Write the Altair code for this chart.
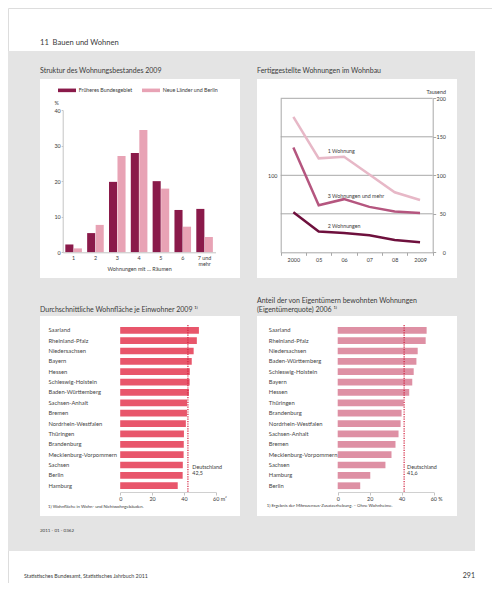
import altair as alt
import pandas as pd

FONT = "Lato"
TXT = "#3a3a3a"
GRAY_BG = "#e4e4e4"
AX = "#a8a8a8"
DARK = "#8a1a4a"
LIGHT = "#e8a3b5"
RED_BAR = "#e8566b"
PINK_BAR = "#de90a4"
LINE_COLORS = ["#e7b8c7", "#b5567f", "#6e103d"]
DE_RED = "#d21f3c"

# ---------------- data ----------------
rooms = ["1", "2", "3", "4", "5", "6", "7 und mehr"]
frueheres = [2.2, 5.4, 19.8, 27.9, 20.0, 11.9, 12.2]
neue = [1.1, 7.7, 27.1, 34.4, 17.9, 7.2, 4.3]
bar_series = ["Früheres Bundesgebiet", "Neue Länder und Berlin"]

years = ["2000", "05", "06", "07", "08", "2009"]
w_1 = [176, 122, 124, 101, 78, 68]
w_3plus = [136, 61, 69, 59, 53, 51]
w_2 = [52, 27, 25, 22, 16, 13]
line_series = ["1 Wohnung", "3 Wohnungen und mehr", "2 Wohnungen"]
line_label_y = [131, 73, 34.5]

states_area = ["Saarland", "Rheinland-Pfalz", "Niedersachsen", "Bayern", "Hessen",
               "Schleswig-Holstein", "Baden-Württemberg", "Sachsen-Anhalt", "Bremen",
               "Nordrhein-Westfalen", "Thüringen", "Brandenburg", "Mecklenburg-Vorpommern",
               "Sachsen", "Berlin", "Hamburg"]
area = [49.4, 48.1, 46.1, 44.9, 43.7, 43.6, 43.1, 42.0, 41.9, 41.2, 40.0, 39.9, 39.8, 39.3, 39.2, 36.1]
de_area = 42.5

states_own = ["Saarland", "Rheinland-Pfalz", "Niedersachsen", "Baden-Württemberg",
              "Schleswig-Holstein", "Bayern", "Hessen", "Thüringen", "Brandenburg",
              "Nordrhein-Westfalen", "Sachsen-Anhalt", "Bremen", "Mecklenburg-Vorpommern",
              "Sachsen", "Hamburg", "Berlin"]
own = [55.7, 55.1, 50.1, 49.3, 47.6, 46.7, 44.8, 41.3, 40.0, 39.4, 38.1, 36.2, 33.7, 29.9, 20.4, 14.1]
de_own = 41.6

# ---------------- layout ----------------
W, H = 484, 575
one = alt.Data(values=[{}])


def txt(s, x, y, size, align="left", color=TXT, baseline="middle"):
    return alt.Chart(one).mark_text(
        text=s, align=align, baseline=baseline, fontSize=size, font=FONT, color=color
    ).encode(x=alt.value(x), y=alt.value(y))


def box(x, y, x2, y2, color):
    return alt.Chart(one).mark_rect(color=color).encode(
        x=alt.value(x), x2=alt.value(x2), y=alt.value(y), y2=alt.value(y2)
    )


decor = [
    box(0, 43, 467, 543, GRAY_BG),
    box(32, 71, 232, 270, "white"),
    box(249, 71, 449, 270, "white"),
    box(32, 308, 232, 508, "white"),
    box(249, 308, 449, 508, "white"),
    txt("11\u2002Bauen und Wohnen", 32, 35, 7.6),
    txt("Struktur des Wohnungsbestandes 2009", 32, 63, 7.0),
    txt("Fertiggestellte Wohnungen im Wohnbau", 249, 63, 7.0),
    txt("Durchschnittliche Wohnfläche je Einwohner 2009 \u00b9\u207e", 32, 302, 7.0),
    txt("Anteil der von Eigentümern bewohnten Wohnungen", 249, 293, 7.0),
    txt("(Eigentümerquote) 2006 \u00b9\u207e", 249, 302, 7.0),
    txt("1) Wohnfläche in Wohn- und Nichtwohngebäuden.", 40, 498.7, 4.3),
    txt("1) Ergebnis der Mikrozensus-Zusatzerhebung. \u2013 Ohne Wohnheime.", 258.7, 498, 4.3),
    txt("2011 - 01 - 0362", 32, 523, 4.5),
    txt("Statistisches Bundesamt, Statistisches Jahrbuch 2011", 16, 568, 5.3),
    txt("291", 467, 568, 7.0, align="right"),
]

ax_common = dict(zindex=1, labelFont=FONT, labelColor=TXT, labelFontSize=5.4,
                 titleFont=FONT, titleColor=TXT, titleFontSize=5.4, titleFontWeight="normal",
                 labelFlush=False, labelOverlap=False)

# ---------------- top left: grouped bars ----------------
df_rooms = pd.DataFrame({
    "room": rooms * 2,
    "series": [bar_series[0]] * len(rooms) + [bar_series[1]] * len(rooms),
    "value": frueheres + neue,
})
tl = alt.Chart(df_rooms).mark_bar().encode(
    x=alt.X("room:N", sort=rooms,
            scale=alt.Scale(domain=rooms, range=[54.7, 207.5], paddingInner=0.24, paddingOuter=0.12),
            axis=alt.Axis(orient="bottom", offset=244.3 - H, title="Wohnungen mit \u2026 Räumen",
                          titleY=16, titleBaseline="middle", labelAngle=0, ticks=False, tickSize=0,
                          labelPadding=3, labelLineHeight=6.7, domainColor="#c4c4c4",
                          labelExpr="datum.value == '7 und mehr' ? ['7 und', 'mehr'] : datum.label",
                          **ax_common)),
    xOffset=alt.XOffset("series:N", scale=alt.Scale(domain=bar_series, paddingInner=0.05)),
    y=alt.Y("value:Q",
            scale=alt.Scale(domain=[0, 40], range=[244.3, 102], nice=False),
            axis=alt.Axis(orient="left", offset=-54.7, values=[0, 10, 20, 30, 40], grid=False,
                          tickSize=1.5, tickColor="#c4c4c4", domainColor="#c4c4c4", labelPadding=1,
                          title="%", titleAngle=0, titleAlign="left", titleX=-8.7, titleY=94.7,
                          titleBaseline="middle", **ax_common)),
    color=alt.Color("series:N", scale=alt.Scale(domain=bar_series, range=[DARK, LIGHT]),
                    legend=alt.Legend(orient="none", legendX=50, legendY=73, direction="horizontal",
                                      title=None, symbolType="M-1,-0.2L1,-0.2L1,0.2L-1,0.2Z",
                                      symbolSize=324, symbolStrokeWidth=0, symbolOpacity=1,
                                      labelFont=FONT, labelFontSize=5.3, labelColor=TXT,
                                      labelOffset=2.7, columnPadding=9, padding=0)),
)

# ---------------- top right: lines ----------------
df_lines = pd.DataFrame({
    "year": years * 3,
    "idx": list(range(len(years))) * 3,
    "series": sum([[s] * len(years) for s in line_series], []),
    "value": w_1 + w_3plus + w_2,
})
xs_tr = alt.Scale(type="band", domain=years, range=[272.7, 424.7], paddingInner=0, paddingOuter=0)
ys_tr = alt.Scale(domain=[0, 200], range=[244.3, 90.3], nice=False)

grid_tr = alt.Chart(pd.DataFrame({"g": [50, 100, 150, 200]})).mark_rule(color=AX, strokeWidth=1).encode(
    y=alt.Y("g:Q", scale=ys_tr,
            axis=alt.Axis(orient="left", offset=-272.7, values=[50, 100, 150, 200], grid=False,
                          ticks=False, tickSize=0, domainColor=AX, labelPadding=3.7, title=None,
                          labelExpr="datum.value == 100 ? '100' : ''", **ax_common)),
    x=alt.value(272.7), x2=alt.value(424.7),
)
lines = alt.Chart(df_lines).mark_line(strokeWidth=2.5).encode(
    x=alt.X("year:N", scale=xs_tr,
            axis=alt.Axis(orient="bottom", offset=244.3 - H, title=None, labelAngle=0,
                          tickBand="extent", tickSize=3, tickColor=AX, domainColor=AX,
                          labelPadding=2.5, **ax_common)),
    y=alt.Y("value:Q", scale=ys_tr,
            axis=alt.Axis(orient="right", offset=424.7 - W, values=[0, 50, 100, 150, 200],
                          grid=False, tickSize=3, tickColor=AX, domainColor=AX, labelAlign="right",
                          labelPadding=9.8, title="Tausend", titleAngle=0, titleAlign="right",
                          titleX=12.8, titleY=83, titleBaseline="middle", **ax_common)),
    color=alt.Color("series:N", scale=alt.Scale(domain=line_series, range=LINE_COLORS), legend=None),
    order=alt.Order("idx:Q"),
)
line_labels = [
    alt.Chart(one).mark_text(text=s, align="left", baseline="middle", dx=9, fontSize=5.3,
                             font=FONT, color=TXT).encode(
        x=alt.XDatum("05", axis=None), y=alt.YDatum(v, axis=None))
    for s, v in zip(line_series, line_label_y)
]
tr = alt.layer(grid_tr, lines, *line_labels).resolve_axis(x="independent", y="independent")


# ---------------- bottom: horizontal bars ----------------
def hbars(states, values, de_value, de_text, color, x_range, label_x, unit, text_dx):
    df = pd.DataFrame({"state": states, "value": values})
    ys = alt.Scale(domain=states, range=[317.1, 482.9], paddingInner=0.35, paddingOuter=0.175)
    xs = alt.Scale(domain=[0, 60], range=x_range, nice=False)
    bars = alt.Chart(df).mark_bar(color=color).encode(
        y=alt.Y("state:N", scale=ys, sort=states,
                axis=alt.Axis(orient="left", offset=-label_x, title=None, ticks=False, tickSize=0,
                              domain=False, labelAlign="left", labelPadding=0,
                              **{**ax_common, "labelFontSize": 5.8, "labelColor": "#454545"})),
        x=alt.X("value:Q", scale=xs,
                axis=alt.Axis(orient="bottom", offset=484 - H, values=[0, 20, 40, 60], grid=False,
                              tickSize=3, tickColor="#c4c4c4", domainColor="#d0d0d0", labelPadding=1,
                              title=None,
                              labelExpr=f"datum.value == 60 ? '60 {unit}' : datum.label",
                              labelAlign={"condition": {"test": "datum.value == 60", "value": "left"},
                                          "value": "center"},
                              labelOffset={"condition": {"test": "datum.value == 60", "value": -3.3},
                                           "value": 0},
                              **ax_common)),
    )
    rule = alt.Chart(one).mark_rule(color=DE_RED, strokeDash=[1.2, 1.2], strokeWidth=1.2).encode(
        x=alt.XDatum(de_value, axis=None), y=alt.value(317), y2=alt.value(484))
    label = alt.Chart(one).mark_text(text=["Deutschland", de_text], align="left", baseline="middle",
                                     dx=text_dx, dy=1.7, lineHeight=6.2, fontSize=5.4,
                                     font=FONT, color=TXT).encode(
        x=alt.XDatum(de_value, axis=None), y=alt.YDatum("Sachsen", axis=None))
    return alt.layer(bars, rule, label).resolve_axis(x="independent", y="independent")


bl = hbars(states_area, area, de_area, "42,5", RED_BAR, [112.2, 207.8], 40, "m²", 4.4)
br = hbars(states_own, own, de_own, "41,6", PINK_BAR, [329.7, 425.5], 260.3, "%", 3)

chart = alt.layer(*decor, tl, tr, bl, br).resolve_scale(
    x="independent", y="independent", color="independent"
).resolve_axis(x="independent", y="independent").resolve_legend(color="independent").properties(
    width=W, height=H, autosize=alt.AutoSizeParams(type="none"), padding=0, background="white"
).configure_view(stroke=None).configure(font=FONT)

chart.save("out.html", embed_options={"renderer": "svg", "actions": False})
